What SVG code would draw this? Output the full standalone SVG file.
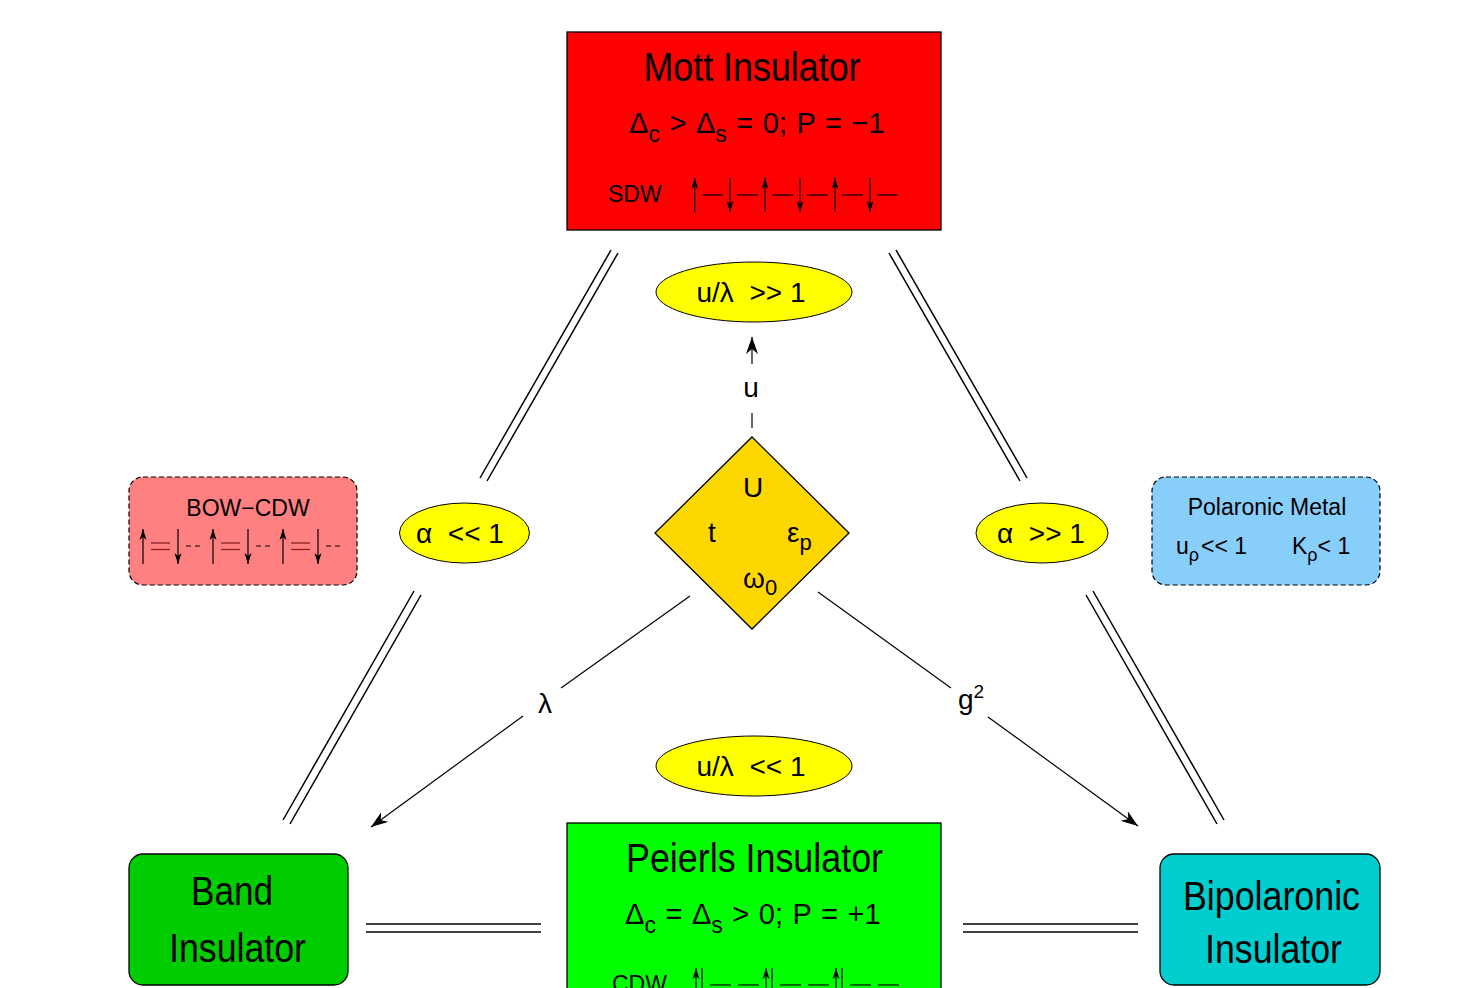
<svg xmlns="http://www.w3.org/2000/svg" width="1479" height="988" viewBox="0 0 1479 988">
<style>
text{font-family:"Liberation Sans",Arial,sans-serif;fill:#000}
.box{stroke:#000;stroke-width:1.3}
.dash{stroke:#000;stroke-width:1.2;stroke-dasharray:5,3}
.ell{fill:#ffff00;stroke:#000;stroke-width:1}
.ln{stroke:#000;stroke-width:1.5;fill:none}
.thin{stroke:#000;stroke-width:1.2;fill:none}
.eq{stroke:#8b2020;stroke-width:1.3}
.big{font-size:40px}
.mid{font-size:28px}
.dl{font-size:29px;word-spacing:1.5px}
.sm{font-size:23px}
</style>
<defs>
<marker id="ah" viewBox="-17 -6 17 12" refX="0" refY="0" markerWidth="17" markerHeight="12" orient="auto" markerUnits="userSpaceOnUse"><path d="M0,0 L-17,-6 L-12,0 L-17,6 z" fill="#000"/></marker>
<marker id="sa" viewBox="-11 -4 11 8" refX="0" refY="0" markerWidth="11" markerHeight="8" orient="auto" markerUnits="userSpaceOnUse"><path d="M0,0 L-11,-3.5 L-8,0 L-11,3.5 z" fill="#000"/></marker>
</defs>
<rect width="1479" height="988" fill="#fff"/>

<g id="connectors">
<line class="ln" x1="611" y1="250" x2="480" y2="478"/>
<line class="ln" x1="618" y1="253" x2="487" y2="481"/>
<line class="ln" x1="414" y1="591" x2="283" y2="820"/>
<line class="ln" x1="421" y1="595" x2="290" y2="824"/>
<line class="ln" x1="889" y1="253" x2="1020" y2="481"/>
<line class="ln" x1="896" y1="250" x2="1027" y2="478"/>
<line class="ln" x1="1086" y1="595" x2="1217" y2="824"/>
<line class="ln" x1="1093" y1="591" x2="1224" y2="820"/>
<line class="ln" x1="366" y1="924" x2="541" y2="924"/>
<line class="ln" x1="366" y1="932" x2="541" y2="932"/>
<line class="ln" x1="963" y1="924" x2="1138" y2="924"/>
<line class="ln" x1="963" y1="932" x2="1138" y2="932"/>
<line class="thin" x1="752" y1="428" x2="752" y2="413"/>
<line class="thin" x1="752" y1="364" x2="752" y2="337" marker-end="url(#ah)"/>
<text class="mid" x="751" y="397" text-anchor="middle">u</text>
<line class="thin" x1="690" y1="596" x2="561" y2="688"/>
<line class="thin" x1="523" y1="716" x2="371" y2="827" marker-end="url(#ah)"/>
<text class="mid" x="545" y="713" text-anchor="middle">λ</text>
<line class="thin" x1="818" y1="592" x2="951" y2="688"/>
<line class="thin" x1="988" y1="717" x2="1138" y2="826" marker-end="url(#ah)"/>
<text class="mid" x="958" y="709">g<tspan dy="-11" font-size="19">2</tspan></text>
</g>

<g id="mott">
<rect class="box" x="567" y="32" width="374" height="198" fill="#ff0000"/>
<text class="big" x="752" y="81" text-anchor="middle" textLength="217" lengthAdjust="spacingAndGlyphs">Mott Insulator</text>
<text class="dl" x="629" y="133">Δ<tspan dy="9" font-size="23">c</tspan><tspan dy="-9"> &gt; Δ</tspan><tspan dy="9" font-size="23">s</tspan><tspan dy="-9"> = 0; P = −1</tspan></text>
<text class="sm" x="608" y="202">SDW</text>
<g class="thin">
<line x1="694.7" y1="212" x2="694.7" y2="178" marker-end="url(#sa)"/>
<line x1="730" y1="178" x2="730" y2="212" marker-end="url(#sa)"/>
<line x1="765" y1="212" x2="765" y2="178" marker-end="url(#sa)"/>
<line x1="800" y1="178" x2="800" y2="212" marker-end="url(#sa)"/>
<line x1="835" y1="212" x2="835" y2="178" marker-end="url(#sa)"/>
<line x1="870" y1="178" x2="870" y2="212" marker-end="url(#sa)"/>
<line x1="702" y1="195" x2="723" y2="195"/>
<line x1="737" y1="195" x2="758" y2="195"/>
<line x1="772" y1="195" x2="793" y2="195"/>
<line x1="807" y1="195" x2="828" y2="195"/>
<line x1="842" y1="195" x2="863" y2="195"/>
<line x1="877" y1="195" x2="898" y2="195"/>
</g>
</g>

<g id="ell-top">
<ellipse class="ell" cx="754" cy="292" rx="98" ry="30"/>
<text class="mid" x="751" y="302" text-anchor="middle" xml:space="preserve">u/λ  &gt;&gt; 1</text>
</g>
<g id="ell-bottom">
<ellipse class="ell" cx="754" cy="766" rx="98" ry="30"/>
<text class="mid" x="751" y="776" text-anchor="middle" xml:space="preserve">u/λ  &lt;&lt; 1</text>
</g>
<g id="ell-left">
<ellipse class="ell" cx="464.5" cy="533" rx="65" ry="30"/>
<text class="mid" x="460" y="543" text-anchor="middle" xml:space="preserve">α  &lt;&lt; 1</text>
</g>
<g id="ell-right">
<ellipse class="ell" cx="1042" cy="533" rx="66" ry="30"/>
<text class="mid" x="1041" y="543" text-anchor="middle" xml:space="preserve">α  &gt;&gt; 1</text>
</g>

<g id="diamond">
<polygon points="752,437 849,533 752,629 655,533" fill="#ffd700" stroke="#000" stroke-width="1.3"/>
<text class="mid" x="753" y="497" text-anchor="middle">U</text>
<text class="mid" x="712" y="542" text-anchor="middle">t</text>
<text class="mid" x="787" y="542">ε<tspan dy="8" font-size="22">p</tspan></text>
<text class="mid" x="743" y="588">ω<tspan dy="7" font-size="22">0</tspan></text>
</g>

<g id="bow-cdw">
<rect class="dash" x="129" y="477" width="228" height="108" rx="14" ry="14" fill="#ff8080"/>
<text class="sm" x="248" y="516" text-anchor="middle">BOW−CDW</text>
<g class="thin">
<line x1="143" y1="564" x2="143" y2="529" marker-end="url(#sa)"/>
<line x1="178" y1="529" x2="178" y2="564" marker-end="url(#sa)"/>
<line x1="213" y1="564" x2="213" y2="529" marker-end="url(#sa)"/>
<line x1="248" y1="529" x2="248" y2="564" marker-end="url(#sa)"/>
<line x1="283" y1="564" x2="283" y2="529" marker-end="url(#sa)"/>
<line x1="318" y1="529" x2="318" y2="564" marker-end="url(#sa)"/>
<line x1="186" y1="546" x2="204" y2="546" stroke-dasharray="5,4"/>
<line x1="256" y1="546" x2="274" y2="546" stroke-dasharray="5,4"/>
<line x1="326" y1="546" x2="344" y2="546" stroke-dasharray="5,4"/>
</g>
<g class="eq">
<line x1="151" y1="543" x2="170" y2="543"/><line x1="151" y1="549.5" x2="170" y2="549.5"/>
<line x1="221" y1="543" x2="240" y2="543"/><line x1="221" y1="549.5" x2="240" y2="549.5"/>
<line x1="291" y1="543" x2="310" y2="543"/><line x1="291" y1="549.5" x2="310" y2="549.5"/>
</g>
</g>

<g id="polaronic-metal">
<rect class="dash" x="1152" y="477" width="228" height="108" rx="14" ry="14" fill="#87cefa"/>
<text class="sm" x="1267" y="515" text-anchor="middle">Polaronic Metal</text>
<text class="sm" x="1176" y="554">u<tspan dy="7" font-size="18">ρ</tspan><tspan dy="-7" dx="2">&lt;&lt; 1</tspan></text>
<text class="sm" x="1292" y="554">K<tspan dy="7" font-size="18">ρ</tspan><tspan dy="-7">&lt; 1</tspan></text>
</g>

<g id="band">
<rect class="box" x="129" y="854" width="219" height="131" rx="14" ry="14" fill="#00cd00"/>
<text class="big" x="232" y="905" text-anchor="middle" textLength="82" lengthAdjust="spacingAndGlyphs">Band</text>
<text class="big" x="237.5" y="962" text-anchor="middle" textLength="137" lengthAdjust="spacingAndGlyphs">Insulator</text>
</g>

<g id="peierls">
<rect class="box" x="567" y="823" width="374" height="200" fill="#00ff00"/>
<text class="big" x="754.5" y="872" text-anchor="middle" textLength="257" lengthAdjust="spacingAndGlyphs">Peierls Insulator</text>
<text class="dl" x="625" y="924">Δ<tspan dy="9" font-size="23">c</tspan><tspan dy="-9"> = Δ</tspan><tspan dy="9" font-size="23">s</tspan><tspan dy="-9"> &gt; 0; P = +1</tspan></text>
<text class="sm" x="612" y="992">CDW</text>
<g class="thin">
<line x1="696" y1="1000" x2="696" y2="968" marker-end="url(#sa)"/>
<line x1="766" y1="1000" x2="766" y2="968" marker-end="url(#sa)"/>
<line x1="836" y1="1000" x2="836" y2="968" marker-end="url(#sa)"/>
<line x1="702" y1="968" x2="702" y2="1000"/>
<line x1="772" y1="968" x2="772" y2="1000"/>
<line x1="842" y1="968" x2="842" y2="1000"/>
<line x1="710" y1="985" x2="731" y2="985"/>
<line x1="738" y1="985" x2="759" y2="985"/>
<line x1="780" y1="985" x2="801" y2="985"/>
<line x1="808" y1="985" x2="829" y2="985"/>
<line x1="850" y1="985" x2="871" y2="985"/>
<line x1="878" y1="985" x2="899" y2="985"/>
</g>
</g>

<g id="bipolaronic">
<rect class="box" x="1160" y="854" width="220" height="131" rx="14" ry="14" fill="#00cdcd"/>
<text class="big" x="1271.5" y="910" text-anchor="middle" textLength="177" lengthAdjust="spacingAndGlyphs">Bipolaronic</text>
<text class="big" x="1273.5" y="963" text-anchor="middle" textLength="137" lengthAdjust="spacingAndGlyphs">Insulator</text>
</g>
</svg>
